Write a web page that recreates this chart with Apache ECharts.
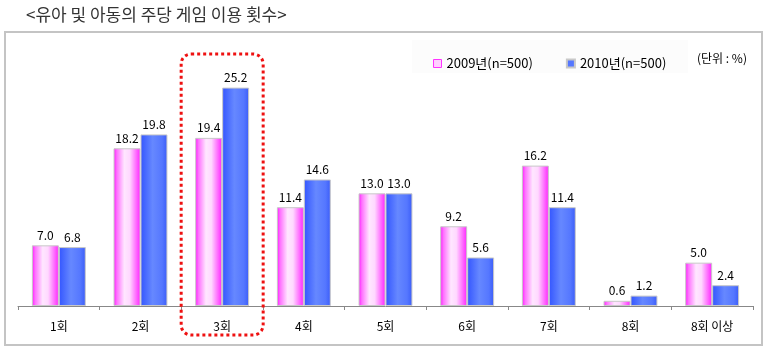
<!DOCTYPE html>
<html><head><meta charset="utf-8">
<script src="https://cdn.jsdelivr.net/npm/echarts@6/dist/echarts.min.js"></script>
<style>html,body{margin:0;padding:0;background:#fff;}#c{width:768px;height:351px;}</style>
</head><body><div id="c"></div>
<script>
const categories = ['1회','2회','3회','4회','5회','6회','7회','8회','8회 이상'];
const values2009 = [7.0, 18.2, 19.4, 11.4, 13.0, 9.2, 16.2, 0.6, 5.0];
const values2010 = [6.8, 19.8, 25.2, 14.6, 13.0, 5.6, 11.4, 1.2, 2.4];
const seriesNames = ['2009년(n=500)', '2010년(n=500)'];
const highlightIndex = 2;

const FONT = '"Noto Sans CJK KR", "DejaVu Sans", sans-serif';
const chart = echarts.init(document.getElementById('c'), null, {renderer:'canvas'});

const pinkGrad = new echarts.graphic.LinearGradient(0,0,1,0,[
  {offset:0,color:'#ff10ff'},{offset:0.12,color:'#ff70ff'},{offset:0.4,color:'#ffe6ff'},
  {offset:0.6,color:'#ffd8ff'},{offset:0.85,color:'#ff66ff'},{offset:1,color:'#ff20ff'}]);
const blueGrad = new echarts.graphic.LinearGradient(0,0,1,0,[
  {offset:0,color:'#3355ff'},{offset:0.45,color:'#6688ff'},{offset:0.8,color:'#5577ff'},{offset:1,color:'#3a5cf8'}]);

const labelCfg = {show:true, position:'top', distance:4, color:'#000', fontSize:12, fontFamily:FONT,
  formatter: p => p.value.toFixed(1)};

chart.setOption({
  animation:false,
  backgroundColor:'#fff',
  title:{text:'<유아 및 아동의 주당 게임 이용 횟수>', left:21, top:1,
    textStyle:{fontSize:17, fontWeight:'normal', color:'#333', fontFamily:FONT}},
  legend:{
    top:52, left:428, itemGap:33, itemWidth:8, itemHeight:8,
    textStyle:{fontSize:13, color:'#000', fontFamily:FONT},
    data:[
      {name:seriesNames[0], icon:'rect', itemStyle:{color:'#ffd0ff', borderColor:'#ff33ff', borderWidth:1}},
      {name:seriesNames[1], icon:'rect', itemStyle:{color:'#5577ff'}}
    ]
  },
  grid:{left:18, right:15, top:46, bottom:45},
  xAxis:{type:'category', data:categories,
    axisLine:{lineStyle:{color:'#888', width:1}},
    axisTick:{show:true, length:4, lineStyle:{color:'#888'}, inside:false},
    axisLabel:{color:'#000', fontSize:12, fontFamily:FONT, margin:14}},
  yAxis:{type:'value', min:0, max:30, show:false, splitLine:{show:false}},
  series:[
    {name:seriesNames[0], type:'bar', data:values2009, barGap:'0%', barCategoryGap:'34%',
     itemStyle:{color:pinkGrad, borderColor:'#c8c8c8', borderWidth:1}, label:labelCfg},
    {name:seriesNames[1], type:'bar', data:values2010,
     itemStyle:{color:blueGrad, borderColor:'#c8c8c8', borderWidth:1}, label:labelCfg}
  ]
});

const cx = chart.convertToPixel({xAxisIndex:0}, categories[highlightIndex]);
const bw = 82;
chart.setOption({
  graphic:[
    {type:'rect', z:-1, silent:true, shape:{x:5, y:32, width:757, height:313},
     style:{fill:'none', stroke:'#c4c4c4', lineWidth:2}},
    {type:'rect', z:-2, silent:true, shape:{x:412, y:40, width:276, height:33},
     style:{fill:'#fcfcfc'}},
    {type:'text', left:697, top:52, style:{text:'(단위 : %)', font:'12px ' + FONT, fill:'#000'}},
    {type:'rect', z:100, silent:true, shape:{x:cx - bw/2, y:54, width:bw, height:281, r:10},
     style:{fill:'none', stroke:'#ee1111', lineWidth:3, lineDash:[3,3]}}
  ]
});
</script></body></html>
